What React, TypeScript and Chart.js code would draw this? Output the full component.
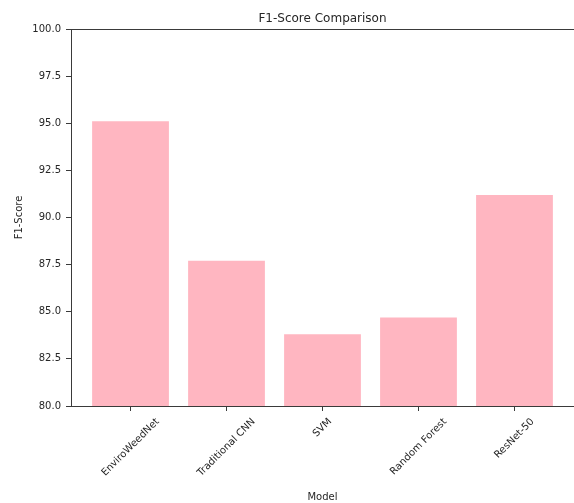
import React, { useEffect, useRef } from "react";
import { Chart, registerables } from "chart.js";

Chart.register(...registerables);

const categories: string[] = ["EnviroWeedNet", "Traditional CNN", "SVM", "Random Forest", "ResNet-50"];
const f1Scores: number[] = [95.1, 87.7, 83.8, 84.7, 91.2];
const chartTitle = "F1-Score Comparison";
const xAxisTitle = "Model";
const yAxisTitle = "F1-Score";
const yMin = 80;
const yMax = 100;
const yStep = 2.5;

const FONT = "'DejaVu Sans', sans-serif";
const TEXT = "#262626";
const LINE = "#3a3a3a";

export default function App() {
  const ref = useRef<HTMLCanvasElement | null>(null);

  useEffect(() => {
    document.body.style.margin = "0";
    const canvas = ref.current;
    if (!canvas) return;

    const decorPlugin = {
      id: "decor",
      afterDraw(chart: any) {
        const { ctx, chartArea } = chart;
        const xs = chart.scales.x;
        ctx.save();
        // top spine
        ctx.strokeStyle = LINE;
        ctx.lineWidth = 1;
        ctx.beginPath();
        ctx.moveTo(chartArea.left, Math.round(chartArea.top) + 0.5);
        ctx.lineTo(chartArea.right, Math.round(chartArea.top) + 0.5);
        ctx.stroke();
        // title
        ctx.fillStyle = TEXT;
        ctx.font = `12px ${FONT}`;
        ctx.textAlign = "center";
        ctx.textBaseline = "alphabetic";
        ctx.fillText(chartTitle, (chartArea.left + chartArea.right) / 2, 22);
        // rotated x labels, centered on tick (matplotlib style)
        ctx.font = `10px ${FONT}`;
        const s = Math.SQRT1_2;
        categories.forEach((label, i) => {
          const x = xs.getPixelForValue(i);
          const w = ctx.measureText(label).width;
          const h = 11.6;
          const bboxH = (w + h) * s;
          const top = chartArea.bottom + 10;
          ctx.save();
          ctx.translate(x, top + bboxH / 2);
          ctx.rotate(-Math.PI / 4);
          ctx.textAlign = "center";
          ctx.textBaseline = "middle";
          ctx.fillText(label, 0, 0);
          ctx.restore();
        });
        ctx.restore();
      },
    };

    const chart = new Chart(canvas, {
      type: "bar",
      data: {
        datasets: [
          {
            label: yAxisTitle,
            data: f1Scores.map((v, i) => ({ x: i, y: v })),
            backgroundColor: "#FFB6C1",
            borderWidth: 0,
            barPercentage: 0.8,
            categoryPercentage: 1,
          },
        ],
      },
      options: {
        responsive: false,
        animation: false,
        layout: { padding: { top: 29, left: 0, right: 0, bottom: 0 } },
        plugins: {
          legend: { display: false },
          tooltip: { enabled: false },
          title: { display: false },
        },
        scales: {
          x: {
            type: "linear",
            offset: false,
            min: -0.62,
            max: 4.62,
            afterBuildTicks: (scale: any) => {
              scale.ticks = scale.ticks.filter((t: any) => Number.isInteger(t.value));
            },
            afterFit: (scale: any) => {
              scale.height = 97;
            },
            ticks: {
              stepSize: 1,
              autoSkip: false,
              maxRotation: 0,
              callback: () => "",
            },
            grid: {
              offset: false,
              drawOnChartArea: false,
              drawTicks: true,
              tickLength: 5,
              color: LINE,
            },
            border: { display: true, color: LINE, width: 1 },
            title: {
              display: true,
              text: xAxisTitle,
              color: TEXT,
              font: { family: FONT, size: 10 },
              padding: { top: 4, bottom: 0 },
            },
          },
          y: {
            min: yMin,
            max: yMax,
            afterFit: (scale: any) => {
              scale.width = 71;
            },
            ticks: {
              stepSize: yStep,
              color: TEXT,
              font: { family: FONT, size: 10 },
              padding: 5,
              callback: (v: any) => Number(v).toFixed(1),
            },
            grid: {
              drawOnChartArea: false,
              drawTicks: true,
              tickLength: 5,
              color: LINE,
            },
            border: { display: true, color: LINE, width: 1 },
            title: {
              display: true,
              text: yAxisTitle,
              color: TEXT,
              font: { family: FONT, size: 10 },
              padding: { top: 13, bottom: 0 },
            },
          },
        },
      },
      plugins: [decorPlugin],
    } as any);

    return () => chart.destroy();
  }, []);

  return (
    <div style={{ position: "absolute", left: 0, top: 0, width: 574, height: 503 }}>
      <canvas ref={ref} width={574} height={503} style={{ display: "block" }} />
    </div>
  );
}
